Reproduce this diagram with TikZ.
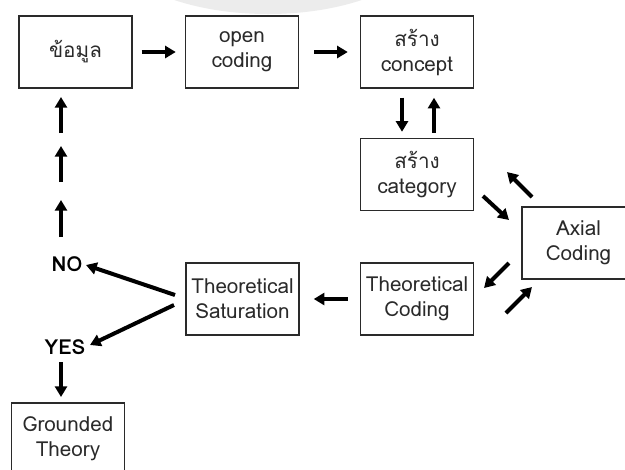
\documentclass[tikz,border=0pt]{standalone}
\usepackage{fontspec}
\setmainfont{Loma}[Script=Thai]
\usetikzlibrary{arrows.meta}
\definecolor{ink}{HTML}{2A2A2A}
\definecolor{haze}{HTML}{ECECEC}
\tikzset{
  stepbox/.style={draw=ink, line width=1.1pt, minimum width=84.75pt, minimum height=54pt,
    inner sep=0pt, align=center, text=ink, font=\fontsize{15.5}{18.75}\selectfont},
  flow/.style={draw=black, line width=3pt, -{Triangle[length=8pt,width=9pt]}},
  answer/.style={font=\fontsize{15.5}{17}\selectfont\bfseries, text=black, inner sep=0pt}
}
\begin{document}
\begin{tikzpicture}[x=0.75pt,y=-0.75pt]
\useasboundingbox (0,0) rectangle (625,469);
\clip (0,0) rectangle (625,469);
\fill[white] (0,0) rectangle (625,469);
% faint disc along the top edge
\fill[haze] (268,-60) ellipse [x radius=160, y radius=74];

% boxes
\node[stepbox] (data)    at (75.5,52)  {ข้อมูล};
\node[stepbox] (open)    at (242,52)   {open\\coding};
\node[stepbox] (concept) at (417,52)   {สร้าง\\concept};
\node[stepbox] (categ)   at (417,174.5){สร้าง\\category};
\node[stepbox] (axial)   at (578.5,243){Axial\\Coding};
\node[stepbox] (tcode)   at (417,299)  {Theoretical\\Coding};
\node[stepbox] (satur)   at (242.5,299){Theoretical\\Saturation};
\node[stepbox] (ground)  at (68,439)   {Grounded\\Theory};

% decision labels
\node[answer] (no)  at (67,264) {NO};
\node[answer] (yes) at (65,347) {YES};

% points for the short free-standing arrows
\coordinate (u1t) at (61,133); \coordinate (u1h) at (61,97);
\coordinate (u2t) at (61,182); \coordinate (u2h) at (61,146);
\coordinate (u3t) at (61,237); \coordinate (u3h) at (61,200);
\coordinate (ca1) at (483,196); \coordinate (ca2) at (509,220);
\coordinate (ac1) at (532,197); \coordinate (ac2) at (507,172);
\coordinate (at1) at (509,263); \coordinate (at2) at (484,288);
\coordinate (ta1) at (506,313); \coordinate (ta2) at (532,287);
\coordinate (sn1) at (175,295); \coordinate (sn2) at (86,265);
\coordinate (sy1) at (174,305); \coordinate (sy2) at (90,345);
\coordinate (yg1) at (61,362);  \coordinate (yg2) at (61,397);

% main flow
\draw[flow, shorten <=6.75pt, shorten >=6.75pt] (data) -- (open);
\draw[flow, shorten <=11.25pt, shorten >=9pt] (open) -- (concept);
\draw[flow, shorten <=6.75pt, shorten >=4.5pt]
  ([xshift=-11.25pt]concept.south) -- ([xshift=-11.25pt]categ.north);
\draw[flow, shorten <=3.75pt, shorten >=6.75pt]
  ([xshift=12.75pt]categ.north) -- ([xshift=12.75pt]concept.south);
\draw[flow] (ca1) -- (ca2);
\draw[flow] (ac1) -- (ac2);
\draw[flow] (at1) -- (at2);
\draw[flow] (ta1) -- (ta2);
\draw[flow, shorten <=9pt, shorten >=10.5pt] (tcode) -- (satur);
\draw[flow] (sn1) -- (sn2);
\draw[flow] (sy1) -- (sy2);
\draw[flow] (yg1) -- (yg2);
\draw[flow] (u3t) -- (u3h);
\draw[flow] (u2t) -- (u2h);
\draw[flow] (u1t) -- (u1h);
\end{tikzpicture}
\end{document}
